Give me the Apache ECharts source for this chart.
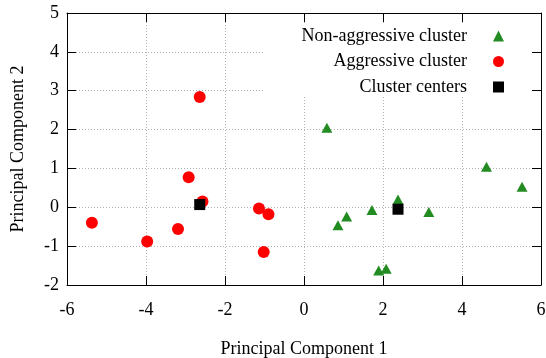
<!DOCTYPE html>
<html lang="en">
<head>
    <meta charset="UTF-8">
    <title>PCA clusters</title>
    <script src="https://cdn.jsdelivr.net/npm/echarts@6/dist/echarts.min.js"></script>
    <style>
        html, body { margin: 0; padding: 0; background: #fff; }
    </style>
</head>
<body>
    <div id="main" style="width: 546px; height: 358px;"></div>
    <script>
        // points (PC1, PC2)
        const nonAggressive = [
            [0.58, 2.05], [4.62, 1.04], [5.52, 0.53], [2.38, 0.20], [3.16, -0.12],
            [1.72, -0.07], [1.08, -0.24], [0.86, -0.46], [1.89, -1.63], [2.08, -1.58]
        ];
        const aggressive = [
            [-2.64, 2.84], [-2.92, 0.77], [-2.57, 0.15], [-5.37, -0.40], [-3.97, -0.88],
            [-3.19, -0.56], [-1.14, -0.03], [-0.90, -0.18], [-1.02, -1.15]
        ];
        const centers = [[-2.64, 0.07], [2.38, -0.05]];

        const seriesNames = ['Non-aggressive cluster', 'Aggressive cluster', 'Cluster centers'];

        const font = 'Liberation Serif';
        const gridLine = { show: true, lineStyle: { color: '#b4b4b4', width: 1, type: [1, 2] } };
        const axisLine = { show: true, onZero: false, lineStyle: { color: '#000', width: 1 } };
        const tick = { show: true, inside: true, length: 9, lineStyle: { color: '#000' } };
        const label = { color: '#000', fontFamily: font, fontSize: 18 };

        var myChart = echarts.init(document.getElementById('main'));

        let option = {
            animation: false,
            grid: { left: 67, right: 5, top: 13, bottom: 73, outerBoundsMode: 'none', containLabel: false },
            legend: {
                data: seriesNames,
                orient: 'vertical',
                align: 'right',
                right: 16,
                top: 23,
                padding: [4, 26, 0, 38],
                backgroundColor: '#fff',
                itemWidth: 11,
                itemHeight: 11,
                itemGap: 7.5,
                textStyle: {
                    color: '#000', fontFamily: font, fontSize: 18, lineHeight: 18,
                    padding: [0, 21, 0, 0]
                }
            },
            xAxis: [
                {
                    type: 'value', min: -6, max: 6, interval: 2,
                    name: 'Principal Component 1', nameLocation: 'middle', nameGap: 55,
                    nameTextStyle: label,
                    axisLine: axisLine, axisTick: tick,
                    axisLabel: Object.assign({ margin: 16 }, label),
                    splitLine: gridLine
                },
                {
                    type: 'value', position: 'top', min: -6, max: 6, interval: 2,
                    axisLine: axisLine, axisTick: tick,
                    axisLabel: { show: false }, splitLine: { show: false }
                }
            ],
            yAxis: [
                {
                    type: 'value', min: -2, max: 5, interval: 1,
                    name: 'Principal Component 2', nameLocation: 'middle', nameGap: 40,
                    nameTextStyle: label,
                    axisLine: axisLine, axisTick: tick,
                    axisLabel: Object.assign({ margin: 8, padding: [3, 0, 0, 0] }, label),
                    splitLine: gridLine
                },
                {
                    type: 'value', position: 'right', min: -2, max: 5, interval: 1,
                    axisLine: axisLine, axisTick: tick,
                    axisLabel: { show: false }, splitLine: { show: false }
                }
            ],
            series: [
                {
                    name: seriesNames[0], type: 'scatter', data: nonAggressive,
                    symbol: 'triangle', symbolSize: [11, 10],
                    itemStyle: { color: '#228b22', opacity: 1 }
                },
                {
                    name: seriesNames[1], type: 'scatter', data: aggressive,
                    symbol: 'circle', symbolSize: 12,
                    itemStyle: { color: '#ff0000', opacity: 1 }
                },
                {
                    name: seriesNames[2], type: 'scatter', data: centers,
                    symbol: 'rect', symbolSize: 11,
                    itemStyle: { color: '#000000', opacity: 1 }
                }
            ]
        };

        myChart.setOption(option);
    </script>
</body>
</html>
